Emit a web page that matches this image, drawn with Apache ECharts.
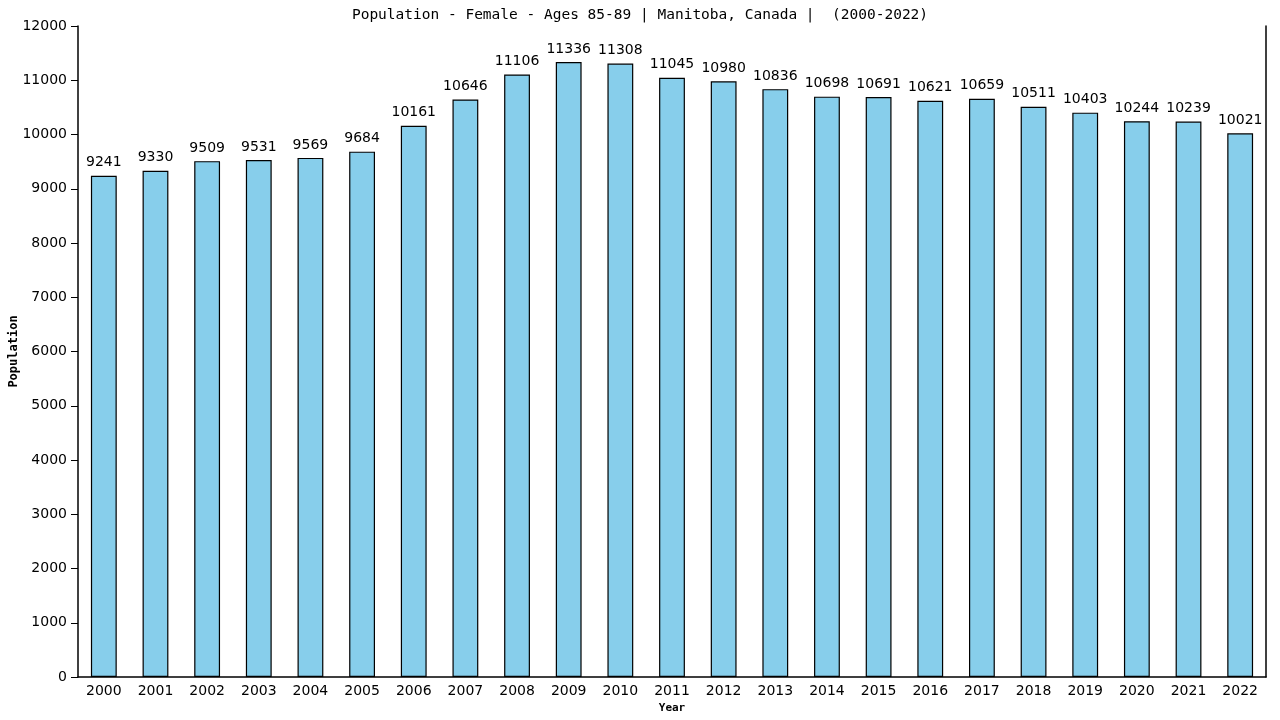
<!DOCTYPE html>
<html>
<head>
<meta charset="utf-8">
<script src="https://cdn.jsdelivr.net/npm/echarts@6/dist/echarts.min.js"></script>
<style>
  html, body { margin: 0; padding: 0; background: #fff; }
  #chart { width: 1280px; height: 720px; }
</style>
</head>
<body>
<div id="chart"></div>
<script>
const years = ['2000','2001','2002','2003','2004','2005','2006','2007','2008','2009','2010','2011',
  '2012','2013','2014','2015','2016','2017','2018','2019','2020','2021','2022'];
const population = [9241, 9330, 9509, 9531, 9569, 9684, 10161, 10646, 11106, 11336, 11308, 11045,
  10980, 10836, 10698, 10691, 10621, 10659, 10511, 10403, 10244, 10239, 10021];

const titleText = 'Population - Female - Ages 85-89 | Manitoba, Canada |  (2000-2022)';
const labelFont = 'DejaVu Sans';
const monoFont = 'DejaVu Sans Mono';

let chart = echarts.init(document.getElementById('chart'));
let option = {
  backgroundColor: '#ffffff',
  animation: false,
  title: {
    text: titleText,
    left: 'center',
    top: 3,
    textStyle: { fontFamily: monoFont, fontSize: 14.5, fontWeight: 'normal', color: '#000' }
  },
  grid: { left: 78, right: 14, top: 26, bottom: 43, outerBoundsMode: 'none', containLabel: false },
  xAxis: {
    type: 'category',
    data: years,
    name: 'Year',
    nameLocation: 'middle',
    nameGap: 26,
    nameMoveOverlap: false,
    nameTextStyle: { fontFamily: monoFont, fontSize: 11, fontWeight: 'bold', color: '#000' },
    axisLine: { lineStyle: { color: '#000', width: 1.5 } },
    axisTick: { show: false },
    axisLabel: { fontFamily: labelFont, fontSize: 14, color: '#000', margin: 7 }
  },
  yAxis: [{
    type: 'value',
    min: 0,
    max: 12000,
    interval: 1000,
    name: 'Population',
    nameLocation: 'middle',
    nameGap: 58,
    nameMoveOverlap: false,
    nameTextStyle: { fontFamily: monoFont, fontSize: 12, fontWeight: 'bold', color: '#000' },
    axisLine: { show: true, lineStyle: { color: '#000', width: 1.5 } },
    axisTick: { show: true, length: 7, inside: false, lineStyle: { color: '#000' } },
    axisLabel: { fontFamily: labelFont, fontSize: 14, color: '#000', margin: 11,
      formatter: function (v) { return String(v); } },
    splitLine: { show: false }
  }, {
    type: 'value',
    position: 'right',
    min: 0,
    max: 12000,
    axisLine: { show: true, lineStyle: { color: '#000', width: 1.5 } },
    axisTick: { show: false },
    axisLabel: { show: false },
    splitLine: { show: false }
  }],
  series: [{
    type: 'bar',
    data: population,
    barWidth: '50%',
    itemStyle: { color: '#87ceeb', borderColor: '#000', borderWidth: 1.2 },
    label: {
      show: true,
      position: 'top',
      distance: 6,
      fontFamily: labelFont,
      fontSize: 14,
      color: '#000'
    }
  }]
};
chart.setOption(option);
</script>
</body>
</html>
